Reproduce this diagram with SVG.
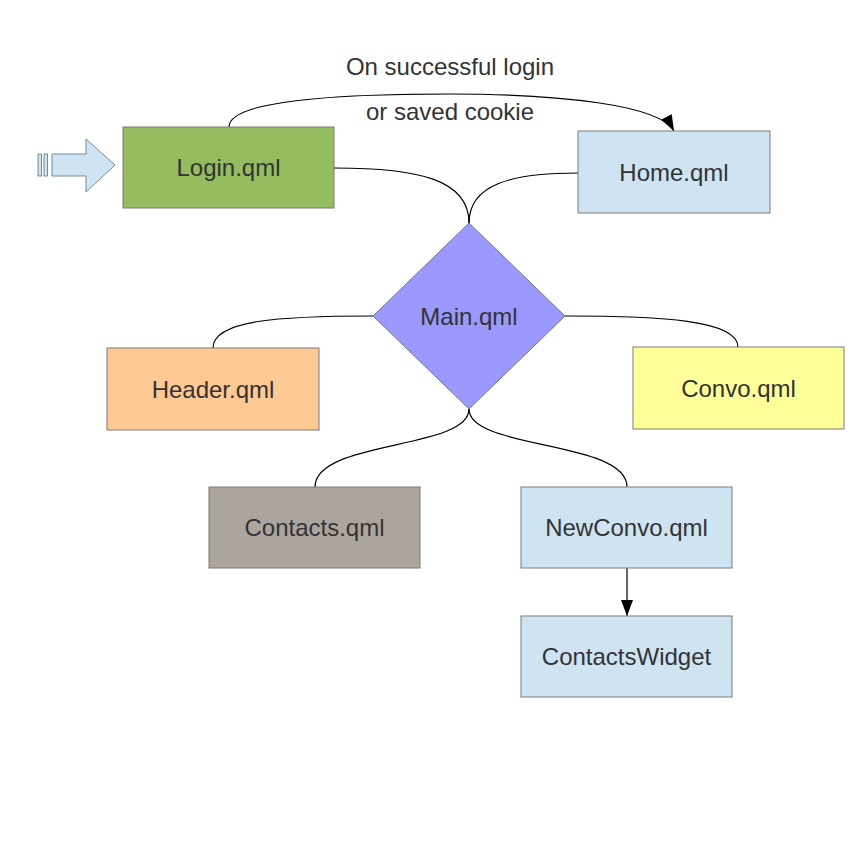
<svg xmlns="http://www.w3.org/2000/svg" width="864" height="864" viewBox="0 0 864 864">
<defs>
<style>
.box{stroke:#7a7a7a;stroke-width:1}
.lbl{font-family:"Liberation Sans",Arial,sans-serif;font-size:24px;fill:#333;text-anchor:middle;dominant-baseline:central}
.con{fill:none;stroke:#000;stroke-width:1.2}
</style>
<marker id="ah" viewBox="0 0 16 12" refX="16" refY="6" markerWidth="16" markerHeight="12" markerUnits="userSpaceOnUse" orient="auto">
<path d="M0,0 L16,6 L0,12 z" fill="#000"/>
</marker>
</defs>
<rect width="864" height="864" fill="#fff"/>
<g id="entry">
<rect x="38" y="154" width="3.5" height="22" fill="#cfe4f3" stroke="#7a8a9a"/>
<rect x="44" y="154" width="3.5" height="22" fill="#cfe4f3" stroke="#7a8a9a"/>
<path d="M52,154 L86,154 L86,139 L115,165 L86,192 L86,176 L52,176 Z" fill="#cfe4f3" stroke="#7a8a9a"/>
</g>
<g id="connectors">
<path class="con" d="M229,127 C229,100 340,94 450,94 C560,94 660,105 674,131" marker-end="url(#ah)"/>
<path class="con" d="M334,168 C420,168 469,180 469,223"/>
<path class="con" d="M578,173 C510,173 469,185 469,223"/>
<path class="con" d="M373,316 C280,316 213,320 213,348"/>
<path class="con" d="M565,316 C660,316 738,320 738,347"/>
<path class="con" d="M469,409 C469,450 315,440 315,487"/>
<path class="con" d="M469,409 C469,450 627,440 627,487"/>
<path class="con" d="M627,568 L627,616" marker-end="url(#ah)"/>
</g>
<g id="label-top">
<text class="lbl" x="450" y="66">On successful login</text>
<text class="lbl" x="450" y="111">or saved cookie</text>
</g>
<g id="login"><rect class="box" x="123" y="127" width="211" height="81" fill="#93bd5f"/><text class="lbl" x="228.5" y="167">Login.qml</text></g>
<g id="home"><rect class="box" x="578" y="131" width="192" height="82" fill="#cfe4f3"/><text class="lbl" x="674" y="172">Home.qml</text></g>
<g id="main"><path class="box" d="M469,223 L565,316 L469,409 L373,316 Z" fill="#9999ff"/><text class="lbl" x="469" y="316">Main.qml</text></g>
<g id="header"><rect class="box" x="107" y="348" width="212" height="82" fill="#ffc994"/><text class="lbl" x="213" y="389">Header.qml</text></g>
<g id="convo"><rect class="box" x="633" y="347" width="211" height="82" fill="#ffff99"/><text class="lbl" x="738.5" y="388">Convo.qml</text></g>
<g id="contacts"><rect class="box" x="209" y="487" width="211" height="81" fill="#aba59e"/><text class="lbl" x="314.5" y="527">Contacts.qml</text></g>
<g id="newconvo"><rect class="box" x="521" y="487" width="211" height="81" fill="#cfe4f3"/><text class="lbl" x="626.5" y="527">NewConvo.qml</text></g>
<g id="contactswidget"><rect class="box" x="521" y="616" width="211" height="81" fill="#cfe4f3"/><text class="lbl" x="626.5" y="656">ContactsWidget</text></g>
</svg>
